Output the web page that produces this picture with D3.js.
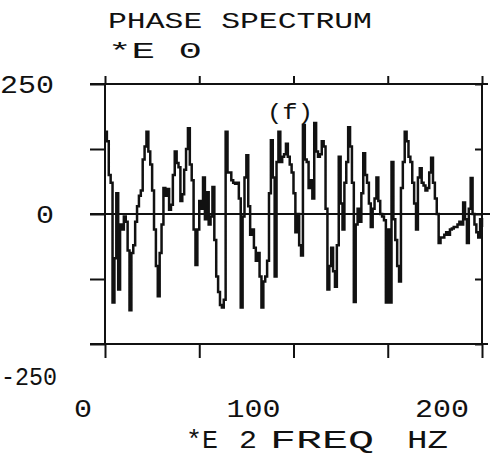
<!DOCTYPE html>
<html>
<head>
<meta charset="utf-8">
<script src="https://cdn.jsdelivr.net/npm/d3@7"></script>
<style>
  html, body { margin: 0; padding: 0; background: #fff; }
  svg { display: block; }
  text { font-family: "Liberation Mono", "DejaVu Sans Mono", monospace; fill: #111; }
</style>
</head>
<body>
<div id="chart"></div>
<script>
// ---- data ----
const titleLines = ["PHASE SPECTRUM", "*E  0"];
const panelLabel = "(f)";
const xTicks = [0, 50, 100, 150, 200];
const xTickLabels = [0, 100, 200];
const yTicks = [-250, -125, 0, 125, 250];
const yTickLabels = [250, 0, -250];
const xAxisTitle = ["*E", "2", "FREQ", "HZ"];
// phase (degrees), one value per frequency step along the axis, starting at 0
const phase = [
  158,140,75,60,-170,-85,40,-145,-20,-30,
  -5,-15,-70,-185,-75,-60,-15,15,35,45,
  105,130,158,120,95,45,-30,-100,-158,-75,
  -20,50,35,48,8,18,75,120,98,90,
  25,38,85,125,165,95,65,-30,-98,-30,
  25,10,70,-10,42,-20,-5,52,-50,-120,
  -150,-175,-180,-165,158,80,80,65,60,58,
  60,30,-180,-5,70,113,15,-40,-30,-65,
  -90,-75,-120,-180,-130,-120,-90,40,142,70,
  -120,100,158,100,110,115,135,110,95,80,
  40,-35,0,-60,-80,171,105,100,50,65,
  30,175,120,110,115,140,130,10,-145,-100,
  -65,-110,-140,-60,110,20,-30,60,100,167,
  130,60,-169,-20,10,-15,40,117,75,60,
  20,-25,10,30,70,25,0,-5,-12,-170,
  -30,-170,100,-10,-50,-100,-130,50,100,158,
  140,110,100,60,20,-30,70,88,60,55,
  45,50,80,108,60,30,0,-56,-45,-45,
  -40,-35,-40,-30,-28,-25,-25,-20,-15,-20,
  22,-10,-56,10,69,0,-20,-35,-45,-10,
  -25
];

// ---- layout ----
const W = 497, H = 459;
const svg = d3.select("#chart").append("svg").attr("width", W).attr("height", H);

const x = d3.scaleLinear().domain([0, 200]).range([105, 482]);
const y = d3.scaleLinear().domain([-250, 250]).range([344, 84]);

const ink = "#111";
const sw = 2;

// frame horizontal lines (extend past frame)
[250, -250].forEach(v => {
  svg.append("line").attr("x1", 90).attr("x2", 488)
    .attr("y1", y(v)).attr("y2", y(v))
    .attr("stroke", ink).attr("stroke-width", sw);
});
// zero line
svg.append("line").attr("x1", 90).attr("x2", 490)
  .attr("y1", y(0)).attr("y2", y(0))
  .attr("stroke", ink).attr("stroke-width", sw);
// vertical frame lines
[0, 200].forEach(v => {
  svg.append("line").attr("x1", x(v)).attr("x2", x(v))
    .attr("y1", y(250)).attr("y2", y(-250))
    .attr("stroke", ink).attr("stroke-width", sw);
});

function styleAxis(g) {
  g.select(".domain").remove();
  g.selectAll(".tick line").attr("stroke", ink).attr("stroke-width", sw);
  g.selectAll(".tick text").remove();
}
svg.append("g").attr("transform", `translate(0,${y(250)})`)
  .call(d3.axisTop(x).tickValues(xTicks).tickSize(8).tickFormat(""))
  .call(styleAxis);
svg.append("g").attr("transform", `translate(0,${y(-250)})`)
  .call(d3.axisBottom(x).tickValues(xTicks).tickSize(14).tickFormat(""))
  .call(styleAxis);
svg.append("g").attr("transform", `translate(${x(0)},0)`)
  .call(d3.axisLeft(y).tickValues(yTicks).tickSize(15).tickFormat(""))
  .call(styleAxis);
svg.append("g").attr("transform", `translate(${x(200)},0)`)
  .call(d3.axisRight(y).tickValues(yTicks).tickSize(-7).tickFormat(""))
  .call(styleAxis);

// trace
const line = d3.line()
  .x((d, i) => x(i))
  .y(d => y(d))
  .curve(d3.curveStepAfter);
svg.append("path").datum(phase)
  .attr("d", line)
  .attr("fill", "none")
  .attr("stroke", ink)
  .attr("stroke-width", 2.5)
  .attr("stroke-linejoin", "miter");

// text helper: stretched monospace text
function ptext(str, xStart, baseline, len, size, anchor) {
  return svg.append("text")
    .attr("x", xStart).attr("y", baseline)
    .attr("font-size", size)
    .attr("text-anchor", anchor || "start")
    .attr("textLength", len)
    .attr("lengthAdjust", "spacingAndGlyphs")
    .text(str);
}

// title
ptext(titleLines[0], 108, 28, 264, 22);
ptext(titleLines[1], 108, 58, 94, 22);

// panel label
ptext(panelLabel, 267, 119, 46, 22);

// y tick labels (right aligned at x=54; negative label kept inside the page)
yTickLabels.forEach(v => {
  const s = String(v);
  if (v < 0) {
    ptext(s, 1, y(v) + 41, 56, 25, "start");
  } else {
    ptext(s, 54, y(v) + 9, s.length * 18, 25, "end");
  }
});

// x tick labels (right edge ~13px left of tick)
xTickLabels.forEach(v => {
  const s = String(v);
  ptext(s, x(v) - 13, 417, s.length * 18, 25, "end");
});

// x axis title
ptext(xAxisTitle[0], 186, 448, 32, 25);
ptext(xAxisTitle[1], 239, 448, 18, 25);
ptext(xAxisTitle[2], 270, 448, 104, 25);
ptext(xAxisTitle[3], 407, 448, 41, 25);
</script>
</body>
</html>
